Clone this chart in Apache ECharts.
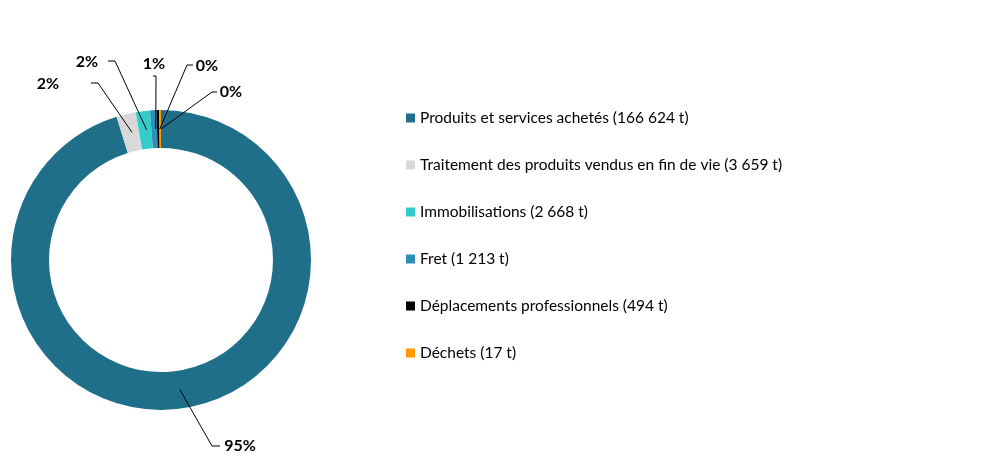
<!DOCTYPE html>
<html>
<head>
<meta charset="utf-8">
<script src="https://cdn.jsdelivr.net/npm/echarts@6/dist/echarts.min.js"></script>
<style>
  html, body { margin: 0; padding: 0; background: #fff; }
  #chart { width: 1000px; height: 470px; }
</style>
</head>
<body>
<div id="chart"></div>
<script>
// données (tonnes)
var categories = [
  "Produits et services achetés",
  "Traitement des produits vendus en fin de vie",
  "Immobilisations",
  "Fret",
  "Déplacements professionnels",
  "Déchets"
];
var values = [166624, 3659, 2668, 1213, 494, 17];
var colors = ["#1F6F8B", "#D9D9D9", "#33CCCC", "#2E8FB6", "#000000", "#FF9900"];

// géométrie de l'anneau
var CX = 161, CY = 260, R_IN = 112, R_OUT = 150;

// position des étiquettes (centre du texte) et points du trait de rappel
var labelSpots = [
  { x: 240, y: 446, line: [[220, 446], [212, 446]] },
  { x: 48, y: 84, line: [[91, 83], [98, 83]] },
  { x: 87, y: 62, line: [[108, 61], [115, 61]] },
  { x: 154, y: 64, line: [[153, 76], [156, 76]] },
  { x: 207, y: 66, line: [[193, 65], [187, 65]] },
  { x: 231, y: 92, line: [[217, 92], [212, 92]] }
];

var total = values.reduce(function (a, b) { return a + b; }, 0);

function fmtNum(v) {
  return String(v).replace(/\B(?=(\d{3})+(?!\d))/g, " ");
}

// point de départ du trait : milieu de l'anneau, angle médian de la part
function startPoint(i) {
  var before = 0;
  for (var k = 0; k < i; k++) before += values[k];
  var mid = (before + values[i] / 2) / total * 360;
  var a = (90 - mid) * Math.PI / 180;
  var r = (R_IN + R_OUT) / 2;
  return [CX + r * Math.cos(a), CY - r * Math.sin(a)];
}

var seriesData = categories.map(function (name, i) {
  return { name: name, value: values[i], itemStyle: { color: colors[i] } };
});

// traits de rappel dessinés par-dessus l'anneau
var leaderLines = labelSpots.map(function (s, i) {
  return {
    type: "polyline",
    z: 100,
    silent: true,
    shape: { points: [startPoint(i), s.line[1], s.line[0]] },
    style: { stroke: "#000", lineWidth: 1, fill: null }
  };
});

var myChart = echarts.init(document.getElementById("chart"));
myChart.setOption({
  animation: false,
  graphic: leaderLines,
  legend: {
    orient: "vertical",
    left: 401,
    top: 105,
    itemWidth: 9,
    itemHeight: 9,
    itemGap: 31,
    icon: "rect",
    textStyle: {
      fontFamily: "Lato",
      fontSize: 15.5,
      color: "#000",
      lineHeight: 16,
      padding: [0, 0, 0, 0]
    },
    formatter: function (name) {
      var i = categories.indexOf(name);
      return name + " (" + fmtNum(values[i]) + " t)";
    },
    data: categories
  },
  series: [
    {
      type: "pie",
      center: [CX, CY],
      radius: [R_IN, R_OUT],
      startAngle: 90,
      clockwise: true,
      minAngle: 0.7,
      avoidLabelOverlap: false,
      itemStyle: { borderWidth: 0 },
      label: {
        show: true,
        position: "outside",
        fontFamily: "Lato",
        fontWeight: "bold",
        fontSize: 16,
        color: "#000",
        formatter: function (p) {
          return Math.round(p.percent) + "%";
        }
      },
      labelLine: { show: false },
      labelLayout: function (params) {
        var s = labelSpots[params.dataIndex];
        return {
          x: s.x,
          y: s.y,
          align: "center",
          verticalAlign: "middle"
        };
      },
      emphasis: { disabled: true },
      data: seriesData
    }
  ]
});
</script>
</body>
</html>
